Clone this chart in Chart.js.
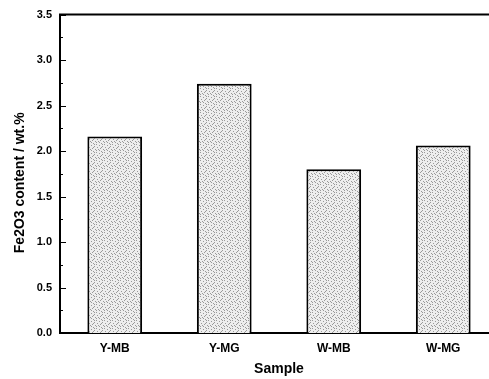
<!DOCTYPE html>
<html>
<head>
<meta charset="utf-8">
<script src="https://cdn.jsdelivr.net/npm/chart.js@4/dist/chart.umd.min.js"></script>
<style>
html,body{margin:0;padding:0;overflow:hidden;background:#fff;}
#wrap{width:498px;height:379px;position:relative;}
</style>
</head>
<body>
<div id="wrap"><canvas id="c"></canvas></div>
<script>
const categories = ['Y-MB', 'Y-MG', 'W-MB', 'W-MG'];
const fe2o3Values = [2.16, 2.74, 1.80, 2.06];
const yMin = 0, yMax = 3.5, yStep = 0.5;
const xTitle = 'Sample';
const yTitle = 'Fe2O3 content / wt.%';

function makePattern() {
  const p = document.createElement('canvas');
  p.width = 8; p.height = 8;
  const g = p.getContext('2d');
  g.fillStyle = '#eeeeee';
  g.fillRect(0, 0, 8, 8);
  g.fillStyle = '#9a9a9a';
  const dots = [[0,0],[3,1],[6,0],[1,3],[5,3],[4,4],[7,5],[2,5],[0,6],[5,7],[3,6],[6,2]];
  dots.forEach(d => g.fillRect(d[0], d[1], 1, 1));
  return g.createPattern(p, 'repeat');
}

const frameTicks = {
  id: 'frameTicks',
  afterDatasetsDraw(chart) {
    const ctx = chart.ctx;
    const a = chart.chartArea;
    const y = chart.scales.y;
    ctx.save();
    ctx.strokeStyle = '#000';
    ctx.lineWidth = 2;
    ctx.beginPath();
    ctx.moveTo(a.left - 1, a.top);
    ctx.lineTo(chart.width, a.top);
    ctx.stroke();
    ctx.lineWidth = 1;
    ctx.beginPath();
    for (let v = yMin; v <= yMax + 1e-9; v += yStep / 2) {
      const py = Math.round(y.getPixelForValue(v)) + 0.5;
      const isMajor = Math.abs(v / yStep - Math.round(v / yStep)) < 1e-6;
      const len = isMajor ? 6 : 3;
      ctx.moveTo(a.left, py);
      ctx.lineTo(a.left + len, py);
    }
    ctx.stroke();
    // y axis title
    ctx.translate(20, (a.top + a.bottom) / 2 + 9);
    ctx.rotate(-Math.PI / 2);
    ctx.fillStyle = '#000';
    ctx.font = 'bold 14px "Liberation Sans"';
    ctx.textAlign = 'center';
    ctx.textBaseline = 'middle';
    ctx.fillText(yTitle, 0, 0);
    ctx.restore();
  }
};

new Chart(document.getElementById('c'), {
  type: 'bar',
  data: {
    labels: categories,
    datasets: [{
      data: fe2o3Values,
      backgroundColor: makePattern(),
      borderColor: '#000',
      borderWidth: 2,
      borderSkipped: 'bottom',
      barPercentage: 0.5,
      categoryPercentage: 1.0
    }]
  },
  plugins: [frameTicks],
  options: {
    responsive: true,
    maintainAspectRatio: false,
    animation: false,
    layout: { padding: { top: 12, left: 0, right: 0, bottom: 0 } },
    plugins: { legend: { display: false }, tooltip: { enabled: false } },
    scales: {
      x: {
        grid: { display: false, drawTicks: false },
        border: { display: true, color: '#000', width: 2 },
        ticks: { color: '#000', padding: 8, font: { family: 'Liberation Sans', weight: 'bold', size: 12 } },
        title: { display: true, text: xTitle, color: '#000', padding: { top: 1, bottom: 1 }, font: { family: 'Liberation Sans', weight: 'bold', size: 14 } },
        afterFit(s) { s.height = 46; }
      },
      y: {
        min: yMin, max: yMax,
        grid: { display: false, drawTicks: false },
        border: { display: true, color: '#000', width: 2 },
        ticks: { stepSize: yStep, color: '#000', padding: 8, callback: v => Number(v).toFixed(1), font: { family: 'Liberation Sans', weight: 'bold', size: 11 } },
        title: { display: false },
        afterFit(s) { s.width = 60; }
      }
    }
  }
});
</script>
</body>
</html>
